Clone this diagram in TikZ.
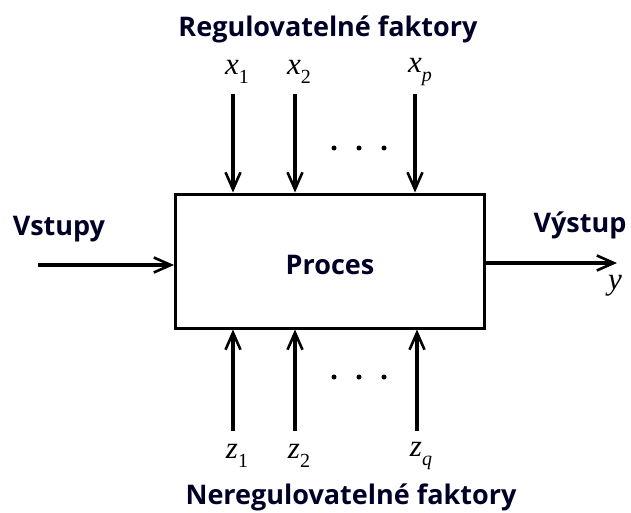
\documentclass[tikz,border=0pt]{standalone}
\usepackage{fontspec}
\setmainfont{Open Sans}
\newfontfamily\vfont{Liberation Serif}
\usetikzlibrary{arrows.meta}
\newcommand{\vr}[2]{{\vfont\itshape #1}\raisebox{-0.28em}{\vfont\fontsize{20}{22}\selectfont #2}}
\begin{document}
\begin{tikzpicture}[x=1pt,y=-1pt,
  lbl/.style={font=\bfseries\fontsize{27}{30}\selectfont, text=black!85!blue},
  var/.style={font=\fontsize{31}{34}\selectfont, inner sep=0pt},
  arr/.style={line width=3.6pt, -{Straight Barb[length=17pt,width=15pt,line width=2.6pt]}},
  dot/.style={circle, fill=black, inner sep=0pt, minimum size=5pt}]
\useasboundingbox (0,0) rectangle (631,513);
\node[draw, line width=3pt, minimum width=309pt, minimum height=134pt, inner sep=0pt] (proc) at (330,261) {};
\node[lbl] (ptext) at (330,265) {Proces};
\node[lbl] (reg) at (328,29) {Regulovatelné faktory};
\node[lbl] (nereg) at (351,497) {Neregulovatelné faktory};
\node[lbl] (vst) at (59,229) {Vstupy};
\node[lbl] (vys) at (580,225) {Výstup};
% top inputs
\coordinate (t1) at (233,94); \coordinate (t2) at (295,94); \coordinate (tp) at (415,94);
\node[var] (x1) at (237,72) {\vr{x}{1}};
\node[var] (x2) at (299,72) {\vr{x}{2}};
\node[var] (xp) at (420,72) {\vr{x}{\itshape p}};
\draw[arr] (t1) -- (t1 |- proc.north);
\draw[arr] (t2) -- (t2 |- proc.north);
\draw[arr] (tp) -- (tp |- proc.north);
\node[dot] (d1) at (334,148) {}; \node[dot] (d2) at (359,148) {}; \node[dot] (d3) at (384,148) {};
% bottom inputs
\coordinate (b1) at (233,431); \coordinate (b2) at (295,431); \coordinate (bq) at (417,431);
\node[var] (z1) at (237,456) {\vr{z}{1}};
\node[var] (z2) at (299,456) {\vr{z}{2}};
\node[var] (zq) at (421,456) {\vr{z}{\itshape q}};
\draw[arr] (b1) -- (b1 |- proc.south);
\draw[arr] (b2) -- (b2 |- proc.south);
\draw[arr] (bq) -- (bq |- proc.south);
\node[dot] (e1) at (334,377) {}; \node[dot] (e2) at (359,377) {}; \node[dot] (e3) at (384,377) {};
% input / output
\coordinate (in) at (38,265);
\draw[arr] (in) -- (in -| proc.west);
\coordinate (out) at (617,263);
\draw[arr] (out -| proc.east) -- (out);
\node[var] (y) at (615,286) {\vfont\itshape y};
\end{tikzpicture}
\end{document}
